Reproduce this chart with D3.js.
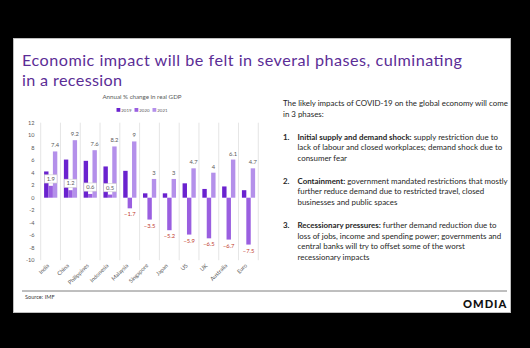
<!DOCTYPE html>
<html>
<head>
<meta charset="utf-8">
<script src="https://cdn.jsdelivr.net/npm/d3@7"></script>
<style>
  html, body { margin: 0; padding: 0; background: #000; }
  svg { display: block; }
  text { font-family: Lato, "Liberation Sans", sans-serif; }
</style>
</head>
<body>
<svg id="slide"></svg>
<script>
const countries = ["India", "China", "Philippines", "Indonesia", "Malaysia", "Singapore", "Japan", "US", "UK", "Australia", "Euro"];
const years = ["2019", "2020", "2021"];
const gdp2019 = [4.2, 6.1, 5.9, 5.0, 4.3, 0.7, 0.7, 2.3, 1.4, 1.8, 1.2];
const gdp2020 = [1.9, 1.2, 0.6, 0.5, -1.7, -3.5, -5.2, -5.9, -6.5, -6.7, -7.5];
const gdp2021 = [7.4, 9.2, 7.6, 8.2, 9.0, 3.0, 3.0, 4.7, 4.0, 6.1, 4.7];
const yTicks = [12, 10, 8, 6, 4, 2, 0, -2, -4, -6, -8, -10];

const phases = [
  { head: "Initial supply and demand shock:", lines: [" supply restriction due to", "lack of labour and closed workplaces; demand shock due to", "consumer fear"] },
  { head: "Containment:", lines: [" government mandated restrictions that mostly", "further reduce demand due to restricted travel, closed", "businesses and public spaces"] },
  { head: "Recessionary pressures:", lines: [" further demand reduction due to", "loss of jobs, income and spending power; governments and", "central banks will try to offset some of the worst", "recessionary impacts"] }
];

const W = 530, H = 348;
const svg = d3.select("#slide").attr("width", W).attr("height", H);

// scale a text element's font so it spans the given width
function fitWidth(sel, width) {
  const node = sel.node();
  const size = parseFloat(sel.attr("font-size"));
  const w = node.getComputedTextLength();
  sel.attr("font-size", size * width / w);
  return size * width / w;
}

// white slide on black
svg.append("rect")
  .attr("x", 13.5).attr("y", 38.5)
  .attr("width", 497).attr("height", 274)
  .attr("fill", "#fff")
  .attr("stroke", "#bfbfbf");

// title, first line spread to its full width
svg.append("text")
  .attr("x", 22).attr("y", 66)
  .attr("font-size", 16.2)
  .attr("fill", "#5b2d96")
  .attr("textLength", 440)
  .attr("lengthAdjust", "spacing")
  .text("Economic impact will be felt in several phases, culminating");
svg.append("text")
  .attr("x", 22).attr("y", 85.5)
  .attr("font-size", 16.2)
  .attr("fill", "#5b2d96")
  .attr("letter-spacing", 0.35)
  .text("in a recession");

// chart
const colors = d3.scaleOrdinal().domain(years).range(["#6a22cf", "#9a5fe0", "#b490ea"]);

const x = d3.scaleBand().domain(countries).range([40.7, 258.3]);
const xYear = d3.scaleBand().domain(years).range([3.4, 16.6]);
const y = d3.scaleLinear().domain([-10, 12]).range([260.2, 122.7]);

const chart = svg.append("g");

chart.append("text")
  .attr("x", 142).attr("y", 99)
  .attr("text-anchor", "middle")
  .attr("font-size", 6.2)
  .attr("fill", "#595959")
  .text("Annual % change in real GDP");

// legend, items laid out one after another
const legend = chart.append("g");
let lx = 0;
years.forEach(yr => {
  legend.append("rect")
    .attr("x", lx).attr("y", 108)
    .attr("width", 3.8).attr("height", 3.8)
    .attr("fill", colors(yr));
  const t = legend.append("text")
    .attr("x", lx + 4.8).attr("y", 111.7)
    .attr("font-size", 4.4)
    .attr("fill", "#595959")
    .text(yr);
  lx += 4.8 + t.node().getComputedTextLength() + 3;
});
legend.attr("transform", `translate(${142 - (lx - 3) / 2},0)`);

// category separators
const edges = countries.map(c => x(c)).concat([x.range()[1]]);
chart.selectAll(".sep")
  .data(edges)
  .enter().append("line")
  .attr("x1", d => d).attr("x2", d => d)
  .attr("y1", y(12)).attr("y2", y(-10))
  .attr("stroke", "#dedede")
  .attr("stroke-width", 0.8);

// y axis labels
chart.selectAll(".ytick")
  .data(yTicks)
  .enter().append("text")
  .attr("x", 34.5)
  .attr("y", d => y(d) + 2)
  .attr("text-anchor", "end")
  .attr("font-size", 5.6)
  .attr("fill", "#595959")
  .text(d => d);

// bars
const rows = countries.map((c, i) => ({ country: c, values: [gdp2019[i], gdp2020[i], gdp2021[i]] }));
const groups = chart.selectAll(".grp")
  .data(rows)
  .enter().append("g")
  .attr("transform", d => `translate(${x(d.country)},0)`);

groups.selectAll("rect")
  .data(d => d.values.map((v, j) => ({ year: years[j], value: v })))
  .enter().append("rect")
  .attr("x", d => xYear(d.year))
  .attr("width", xYear.bandwidth())
  .attr("y", d => y(Math.max(0, d.value)))
  .attr("height", d => Math.abs(y(d.value) - y(0)))
  .attr("fill", d => colors(d.year));

// 2021 labels above bars
groups.append("text")
  .attr("x", xYear("2021") + xYear.bandwidth() / 2)
  .attr("y", d => y(d.values[2]) - 4)
  .attr("text-anchor", "middle")
  .attr("font-size", 5.8)
  .attr("fill", "#595959")
  .text(d => d3.format(".1~f")(d.values[2]));

// 2020 labels: boxed when positive, red below the bar when negative
const mid2020 = xYear("2020") + xYear.bandwidth() / 2;
const pos = groups.filter(d => d.values[1] >= 0);
pos.append("rect")
  .attr("x", mid2020 - 6.3)
  .attr("y", d => y(d.values[1]) - 11)
  .attr("width", 12.6).attr("height", 8.2)
  .attr("fill", "#fff")
  .attr("stroke", "#d0d0d0")
  .attr("stroke-width", 0.6);
pos.append("text")
  .attr("x", mid2020)
  .attr("y", d => y(d.values[1]) - 4.8)
  .attr("text-anchor", "middle")
  .attr("font-size", 5.8)
  .attr("fill", "#595959")
  .text(d => d3.format(".1f")(d.values[1]));

groups.filter(d => d.values[1] < 0).append("text")
  .attr("x", mid2020)
  .attr("y", d => y(d.values[1]) + 8)
  .attr("text-anchor", "middle")
  .attr("font-size", 5.8)
  .attr("fill", "#c0392b")
  .text(d => d3.format(".1f")(d.values[1]));

// rotated category labels
chart.selectAll(".cat")
  .data(countries)
  .enter().append("text")
  .attr("transform", d => `translate(${x(d) + x.bandwidth() / 2 - 1},266) rotate(-45)`)
  .attr("text-anchor", "end")
  .attr("font-size", 5.6)
  .attr("fill", "#595959")
  .text(d => d);

// bullet text on the right
const body = svg.append("g").attr("fill", "#262626");
const intro1 = body.append("text")
  .attr("x", 283).attr("y", 106)
  .attr("font-size", 8)
  .text("The likely impacts of COVID-19 on the global economy will come");
const bodySize = fitWidth(intro1, 225);
body.append("text")
  .attr("x", 283).attr("y", 116.7)
  .attr("font-size", bodySize)
  .text("in 3 phases:");

const lineH = 10.6;
const starts = [139.5, 183.5, 228];
phases.forEach((p, i) => {
  body.append("text")
    .attr("x", 283).attr("y", starts[i])
    .attr("font-size", bodySize)
    .attr("font-weight", "bold")
    .text((i + 1) + ".");
  p.lines.forEach((ln, k) => {
    const t = body.append("text")
      .attr("x", 297.5).attr("y", starts[i] + k * lineH)
      .attr("font-size", bodySize);
    if (k === 0) {
      t.append("tspan").attr("font-weight", "bold").text(p.head);
      t.append("tspan").text(ln);
    } else {
      t.text(ln);
    }
  });
});

// footer
svg.append("line")
  .attr("x1", 22).attr("x2", 507)
  .attr("y1", 291).attr("y2", 291)
  .attr("stroke", "#7f7f7f")
  .attr("stroke-width", 1);
svg.append("text")
  .attr("x", 25).attr("y", 299)
  .attr("font-size", 5.6)
  .attr("fill", "#404040")
  .text("Source: IMF");
const logo = svg.append("text")
  .attr("x", 463).attr("y", 308)
  .attr("font-size", 12)
  .attr("font-weight", 900)
  .attr("fill", "#111")
  .attr("letter-spacing", 1)
  .text("OMDIA");
fitWidth(logo, 44);
</script>
</body>
</html>
